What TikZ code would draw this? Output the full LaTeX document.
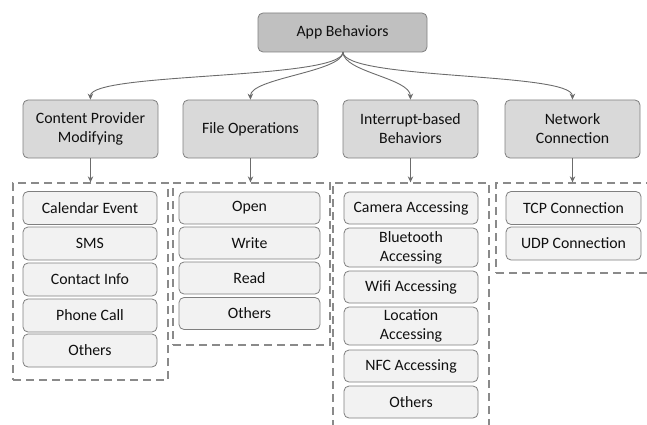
\documentclass[tikz,border=0pt]{standalone}
\usepackage{fontspec}
\setmainfont{Carlito}
\usetikzlibrary{arrows.meta}
\definecolor{edge}{HTML}{7F7F7F}
\definecolor{topfill}{HTML}{C0C0C0}
\definecolor{midfill}{HTML}{D9D9D9}
\definecolor{itemfill}{HTML}{F2F2F2}
\definecolor{dashcol}{HTML}{8A8A8A}
\definecolor{txt}{HTML}{101010}
\tikzset{
  basebox/.style={draw=edge, line width=0.8pt, rounded corners=5pt, inner sep=0pt,
    align=center, text=txt, font=\fontsize{15.8}{19}\selectfont},
  topbox/.style={basebox, fill=topfill, minimum width=169pt, minimum height=39pt},
  midbox/.style={basebox, fill=midfill, minimum width=135pt, minimum height=58pt},
  itembox/.style={basebox, fill=itemfill, minimum height=32pt},
  group/.style={draw=dashcol, line width=1.3pt, dash pattern=on 8pt off 5pt, inner sep=0pt},
  conn/.style={draw=edge!85!black, line width=0.9pt, -{Stealth[length=6pt,width=5.5pt]}}
}
\begin{document}
\begin{tikzpicture}[x=1pt,y=-1pt]
\useasboundingbox (0,0) rectangle (647,425);
\clip (0,0) rectangle (647,425);
% top
\node[topbox] (app) at (342.5,32.5) {App Behaviors};
% level 2
\node[midbox] (cpm) at (90.5,129) {Content Provider\\Modifying};
\node[midbox] (fop) at (250.5,129) {File Operations};
\node[midbox] (ibb) at (410.5,129) {Interrupt-based\\Behaviors};
\node[midbox] (net) at (572.5,129) {Network\\Connection};
% groups
\node[group, minimum width=155pt, minimum height=197pt] (g1) at (90.5,281.5) {};
\node[group, minimum width=157pt, minimum height=162pt] (g2) at (251.5,264) {};
\node[group, minimum width=156pt, minimum height=257pt] (g3) at (411,311.5) {};
\node[group, minimum width=164pt, minimum height=90pt] (g4) at (578,228) {};
% group 1 items
\node[itembox, minimum width=134pt, minimum height=33pt] (c1) at (90,208) {Calendar Event};
\node[itembox, minimum width=134pt, minimum height=33pt] (c2) at (90,243.5) {SMS};
\node[itembox, minimum width=134pt, minimum height=33pt] (c3) at (90,279.5) {Contact Info};
\node[itembox, minimum width=134pt, minimum height=33pt] (c4) at (90,315.5) {Phone Call};
\node[itembox, minimum width=134pt, minimum height=33pt] (c5) at (90,350.5) {Others};
% group 2 items
\node[itembox, minimum width=141pt] (f1) at (249.5,208) {Open};
\node[itembox, minimum width=141pt] (f2) at (249.5,243) {Write};
\node[itembox, minimum width=141pt] (f3) at (249.5,278) {Read};
\node[itembox, minimum width=141pt] (f4) at (249.5,313.5) {Others};
% group 3 items
\node[itembox, minimum width=134pt] (i1) at (411,208) {Camera Accessing};
\node[itembox, minimum width=134pt, minimum height=39pt] (i2) at (411,247.5) {Bluetooth\\Accessing};
\node[itembox, minimum width=134pt] (i3) at (411,287) {Wifi Accessing};
\node[itembox, minimum width=134pt, minimum height=38pt] (i4) at (411,326) {Location\\Accessing};
\node[itembox, minimum width=134pt] (i5) at (411,366) {NFC Accessing};
\node[itembox, minimum width=134pt] (i6) at (411,402) {Others};
% group 4 items
\node[itembox, minimum width=135pt, minimum height=33pt] (n1) at (573.5,208) {TCP Connection};
\node[itembox, minimum width=135pt, minimum height=33pt] (n2) at (573.5,243.5) {UDP Connection};
% connectors from top
\coordinate (src) at (343,52);
\draw[conn] (src) .. controls (343,80) and (90,72) .. (cpm.north);
\draw[conn] (src) .. controls (343,72) and (250,78) .. (fop.north);
\draw[conn] (src) .. controls (343,72) and (410,78) .. (ibb.north);
\draw[conn] (src) .. controls (343,80) and (572,72) .. (net.north);
% connectors to groups
\draw[conn] (cpm.south) -- (cpm.south |- g1.north);
\draw[conn] (fop.south) -- (fop.south |- g2.north);
\draw[conn] (ibb.south) -- (ibb.south |- g3.north);
\draw[conn] (net.south) -- (net.south |- g4.north);
\end{tikzpicture}
\end{document}
